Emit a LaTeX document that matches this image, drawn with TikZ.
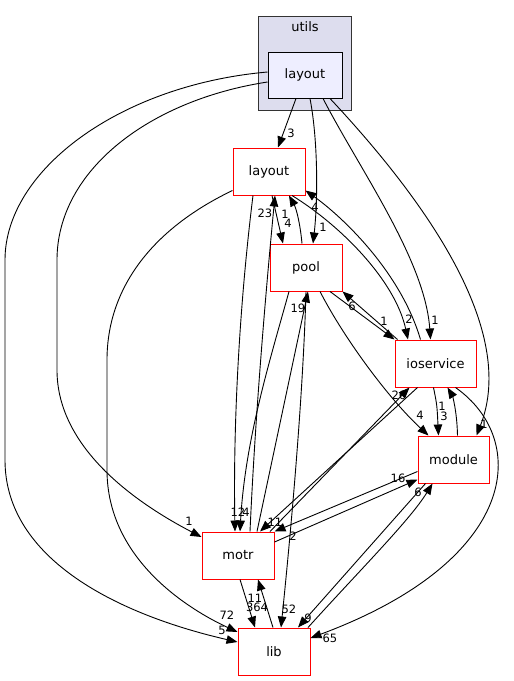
\documentclass[tikz,border=0pt]{standalone}
\usepackage{fontspec}
\setmainfont{DejaVu Sans}
\usetikzlibrary{arrows.meta}

\definecolor{grupo}{HTML}{DDDDEE}
\definecolor{actual}{HTML}{EEEEFF}

\begin{document}
\begin{tikzpicture}[
        x=1pt, y=-1pt,
        carpeta/.style={draw=red, line width=1pt, minimum width=72pt, minimum height=47pt, inner sep=0pt, font=\fontsize{13}{15}\selectfont},
        actualdir/.style={draw=black, fill=actual, line width=1pt, minimum width=74pt, minimum height=46pt, inner sep=0pt, font=\fontsize{13}{15}\selectfont},
        grupobox/.style={draw=black!80, fill=grupo, line width=1pt, minimum width=93pt, minimum height=94pt, inner sep=0pt},
        etiq/.style={inner sep=0pt, font=\fontsize{11.5}{13}\selectfont},
        flecha/.style={-{Triangle[length=11pt,width=8.5pt]}, line width=0.9pt}
    ]
        \useasboundingbox[fill=white] (0,0) rectangle (514,681);

        % grupo utils
        \node[grupobox] (utils) at (304.5,63) {};
        \node[font=\fontsize{13}{15}\selectfont] (utilslbl) at (305,27) {utils};
        \node[actualdir] (utl) at (305,75) {layout};

        % carpetas
        \node[carpeta] (lay) at (269,171.5) {layout};
        \node[carpeta] (pool) at (306,267.5) {pool};
        \node[carpeta, minimum width=81pt] (ios) at (435.5,363.5) {ioservice};
        \node[carpeta, minimum width=71pt] (mod) at (453.5,459.5) {module};
        \node[carpeta] (motr) at (238,555.5) {motr};
        \node[carpeta] (lib) at (274,651.5) {lib};

        % desde utils/layout
        \draw[flecha] ([xshift=-9pt]utl.south) -- ([xshift=9pt]lay.north) node[etiq] at (291,133) {3};
        \draw[flecha] ([xshift=5pt]utl.south) .. controls (318,140) and (318,200) .. ([xshift=7pt]pool.north) node[etiq] at (323,227) {1};
        \draw[flecha] ([xshift=18pt]utl.south) .. controls (360,170) and (425,260) .. ([xshift=-5pt]ios.north) node[etiq] at (435,320) {1};
        \draw[flecha] ([xshift=25pt]utl.south) .. controls (425,200) and (518,330) .. ([xshift=23pt]mod.north) node[etiq] at (484,424) {1};
        \draw[flecha] ([yshift=-7pt]utl.west) .. controls (150,100) and (57,170) .. (57,260) -- (57,370) .. controls (57,450) and (140,505) .. ([yshift=18.5pt]motr.west) node[etiq] at (189,521) {1};
        \draw[flecha] ([yshift=3pt]utl.west) .. controls (120,85) and (5,170) .. (5,260) -- (5,460) .. controls (5,560) and (120,615) .. ([yshift=9.5pt]lib.west) node[etiq] at (222,630) {5};

        % desde layout
        \draw[flecha] ([xshift=3pt]lay.south) -- ([xshift=-23pt]pool.north) node[etiq] at (288,223) {4};
        \draw[flecha] ([xshift=23pt]lay.south) .. controls (340,225) and (395,280) .. ([xshift=-27.5pt]ios.north) node[etiq] at (409,319) {2};
        \draw[flecha] ([xshift=-16pt]lay.south) .. controls (240,300) and (233,420) .. ([xshift=-3pt]motr.north) node[etiq] at (238,512) {12};
        \draw[flecha] ([yshift=5pt]lay.south west) .. controls (150,230) and (107,290) .. (107,360) -- (107,470) .. controls (107,560) and (190,610) .. ([yshift=19.5pt]lib.west) node[etiq] at (227,615) {72};

        % desde pool
        \draw[flecha] ([xshift=-4pt]pool.north) .. controls (300,222) and (296,208) .. ([xshift=20pt]lay.south) node[etiq] at (285,214) {1};
        \draw[flecha] ([xshift=24pt]pool.south) -- (ios.north west) node[etiq] at (384,321) {1};
        \draw[flecha] ([xshift=14pt]pool.south) .. controls (345,340) and (390,400) .. ([xshift=-25pt]mod.north) node[etiq] at (420,415) {4};
        \draw[flecha] ([xshift=-17pt]pool.south) .. controls (270,360) and (245,440) .. ([xshift=2pt]motr.north) node[etiq] at (246,512) {4};
        \draw[flecha] (pool.south) .. controls (303,400) and (290,540) .. ([xshift=7pt]lib.north) node[etiq] at (289,609) {52};

        % desde ioservice
        \draw[flecha] ([xshift=-15pt]ios.north) .. controls (400,270) and (340,215) .. ([yshift=5pt]lay.south east) node[etiq] at (315,207) {4};
        \draw[flecha] ([xshift=-38pt]ios.north) -- (pool.south east) node[etiq] at (352,306) {6};
        \draw[flecha] ([xshift=-2pt]ios.south) .. controls (437,405) .. ([xshift=-15pt]mod.north) node[etiq] at (444,416) {3};
        \draw[flecha] ([xshift=-18pt]ios.south) -- ([xshift=22pt]motr.north) node[etiq] at (275,522) {11};
        \draw[flecha] ([xshift=20pt]ios.south) .. controls (530,440) and (520,560) .. ([yshift=13.5pt]lib.east) node[etiq] at (330,638) {65};

        % desde module
        \draw[flecha] ([xshift=4pt]mod.north) .. controls (457,410) and (452,395) .. ([xshift=12pt]ios.south) node[etiq] at (442,406) {1};
        \draw[flecha] ([yshift=-12pt]mod.west) -- (motr.north east) node[etiq] at (293,536) {2};
        \draw[flecha] ([xshift=-28pt]mod.south) -- ([xshift=24pt]lib.north) node[etiq] at (308,618) {9};

        % desde motr
        \draw[flecha] ([xshift=12pt]motr.north) .. controls (255,420) and (265,300) .. ([xshift=6pt]lay.south) node[etiq] at (265,213) {23};
        \draw[flecha] ([xshift=19pt]motr.north) -- ([xshift=2pt]pool.south) node[etiq] at (298,308) {19};
        \draw[flecha] ([xshift=32pt]motr.north) -- ([xshift=-26pt]ios.south) node[etiq] at (399,395) {26};
        \draw[flecha] ([yshift=13.5pt]motr.east) -- ([yshift=-20pt]mod.west) node[etiq] at (398,478) {16};
        \draw[flecha] ([xshift=2pt]motr.south) -- ([xshift=-19pt]lib.north) node[etiq] at (257,607) {364};

        % desde lib
        \draw[flecha] ([xshift=-1pt]lib.north) -- ([xshift=20pt]motr.south) node[etiq] at (255,598) {11};
        \draw[flecha] ([xshift=34pt]lib.north) .. controls (360,570) and (410,520) .. ([xshift=-21pt]mod.south) node[etiq] at (418,492) {6};

    \end{tikzpicture}
\end{document}
